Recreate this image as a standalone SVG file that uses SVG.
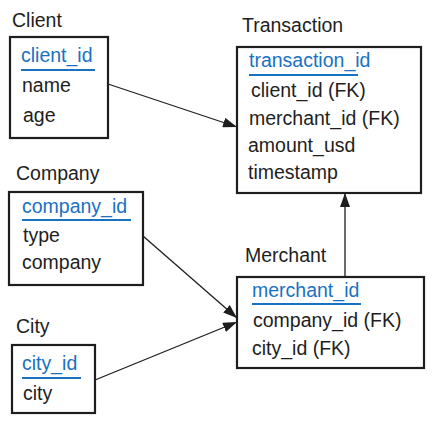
<svg xmlns="http://www.w3.org/2000/svg" width="433" height="422" viewBox="0 0 433 422">
<defs>
<style>
text{font-family:"Liberation Sans",Arial,Helvetica,sans-serif;font-size:19.5px;fill:#1e1e1e}
.pk{fill:#1971c2}
.ul{stroke:#1971c2;stroke-width:2}
.box{fill:#fff;stroke:#1e1e1e;stroke-width:2.2}
.conn{stroke:#1e1e1e;stroke-width:1.3;fill:none}
</style>
<marker id="ah" viewBox="0 0 14 10" refX="14" refY="5" markerWidth="14" markerHeight="10" markerUnits="userSpaceOnUse" orient="auto">
<path d="M0,0 L14,5 L0,10 Z" fill="#1e1e1e"/>
</marker>
</defs>
<rect width="433" height="422" fill="#fff"/>
<g id="connectors">
<line class="conn" x1="108" y1="84" x2="237" y2="127" marker-end="url(#ah)"/>
<line class="conn" x1="345" y1="277" x2="345" y2="193" marker-end="url(#ah)"/>
<line class="conn" x1="143" y1="236" x2="237" y2="318" marker-end="url(#ah)"/>
<line class="conn" x1="95" y1="380" x2="237" y2="322" marker-end="url(#ah)"/>
</g>
<g id="client">
<text x="12" y="27">Client</text>
<rect class="box" x="10" y="37" width="98" height="101"/>
<text class="pk" x="21" y="62">client_id</text>
<line class="ul" x1="21" y1="70" x2="95" y2="70"/>
<text x="22" y="92">name</text>
<text x="23" y="122">age</text>
</g>
<g id="transaction">
<text x="242" y="32">Transaction</text>
<rect class="box" x="237" y="47" width="184" height="146"/>
<text class="pk" x="249" y="67">transaction_id</text>
<line class="ul" x1="249" y1="75" x2="358" y2="75"/>
<text x="251" y="97">client_id (FK)</text>
<text x="249" y="125">merchant_id (FK)</text>
<text x="248" y="152">amount_usd</text>
<text x="248" y="179">timestamp</text>
</g>
<g id="company">
<text x="16" y="180">Company</text>
<rect class="box" x="9" y="192" width="134" height="93"/>
<text class="pk" x="22" y="213">company_id</text>
<line class="ul" x1="22" y1="220" x2="131" y2="220"/>
<text x="23" y="242">type</text>
<text x="22" y="269">company</text>
</g>
<g id="city">
<text x="16" y="333">City</text>
<rect class="box" x="12" y="345" width="83" height="68"/>
<text class="pk" x="22" y="370">city_id</text>
<line class="ul" x1="22" y1="378" x2="81" y2="378"/>
<text x="23" y="400">city</text>
</g>
<g id="merchant">
<text x="245" y="262">Merchant</text>
<rect class="box" x="237" y="277" width="187" height="91"/>
<text class="pk" x="252" y="297">merchant_id</text>
<line class="ul" x1="252" y1="304" x2="361" y2="304"/>
<text x="253" y="327">company_id (FK)</text>
<text x="252" y="355">city_id (FK)</text>
</g>
</svg>
